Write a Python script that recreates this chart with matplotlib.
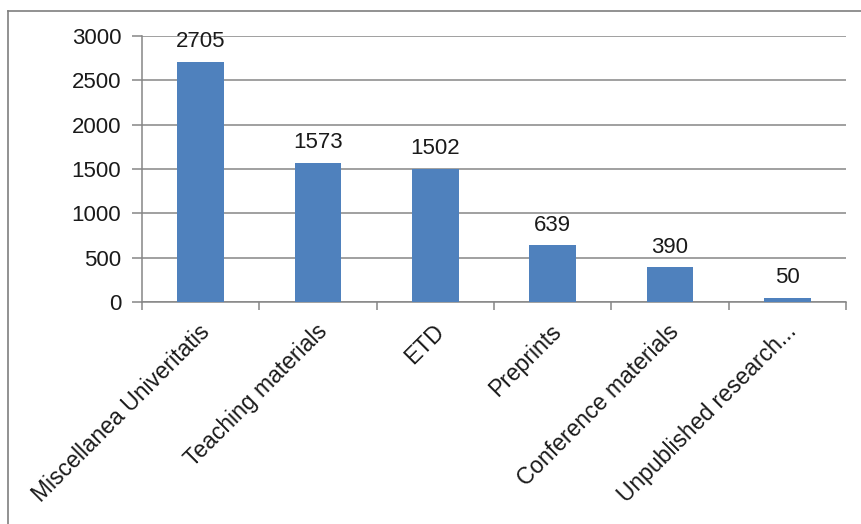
import matplotlib.pyplot as plt
import numpy as np
from matplotlib.lines import Line2D

categories = ["Miscellanea Univeritatis", "Teaching materials", "ETD",
              "Preprints", "Conference materials", "Unpublished research..."]
values = [2705, 1573, 1502, 639, 390, 50]
yticks = [0, 500, 1000, 1500, 2000, 2500, 3000]

plt.rcParams['font.family'] = ['Liberation Sans', 'DejaVu Sans']

fig = plt.figure(figsize=(8.62, 5.24), dpi=100)
ax = fig.add_axes([142/862, 1 - 302/524, (846 - 142)/862, (302 - 36)/524])

x = np.arange(len(categories))
ax.bar(x, values, width=0.4, color='#4F81BD', zorder=3)

for xi, v in zip(x, values):
  ax.annotate(str(v), xy=(xi, v), xytext=(0, 7), textcoords='offset points',
              ha='center', va='bottom', fontsize=16, color='#1a1a1a')

ax.set_xlim(-0.5, len(categories) - 0.5)
ax.set_ylim(0, 3000)
ax.set_yticks(yticks)
ax.set_yticklabels([str(t) for t in yticks], fontsize=16, color='#1a1a1a')
ax.yaxis.grid(True, color='#868686', linewidth=1.1, zorder=0)

# category boundary ticks on the x axis
ax.set_xticks(np.arange(len(categories) + 1) - 0.5)
ax.set_xticklabels([])
ax.tick_params(axis='x', length=6, color='#868686', width=1.1)
ax.tick_params(axis='y', length=7, color='#868686', width=1.1, pad=8)

for xi, lab in zip(x, categories):
  ax.annotate(lab, xy=(xi, 0), xycoords='data', xytext=(-2, -13), textcoords='offset points',
              rotation=45, ha='right', va='top', rotation_mode='anchor',
              fontsize=16.5, color='#1a1a1a')

for s in ['top', 'right']:
  ax.spines[s].set_visible(False)
ax.spines['left'].set_color('#868686')
ax.spines['bottom'].set_color('#868686')
ax.spines['left'].set_linewidth(1.1)
ax.spines['bottom'].set_linewidth(1.1)

# outer chart frame (left and top edges visible)
fig.add_artist(Line2D([8/862, 8/862], [0, 1 - 11/524], color='#7f7f7f', linewidth=1.2))
fig.add_artist(Line2D([8/862, 1], [1 - 11/524, 1 - 11/524], color='#7f7f7f', linewidth=1.2))

fig.savefig('out.png', dpi=100)
